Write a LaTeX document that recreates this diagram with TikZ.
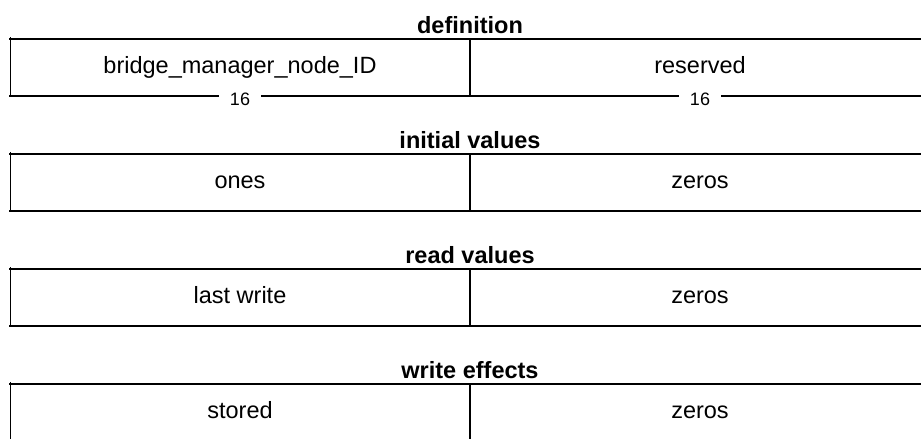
\documentclass[tikz,border=0pt]{standalone}
\usepackage{fontspec}
\setmainfont{Liberation Sans}
\tikzset{
  hline/.style={line width=2pt, line cap=rect},
  vline/.style={line width=1pt},
  divline/.style={line width=2pt},
  fieldtxt/.style={font=\fontsize{23.5}{28}\selectfont, inner sep=0pt, anchor=base},
  titletxt/.style={font=\fontsize{23.5}{28}\selectfont\bfseries, inner sep=0pt, anchor=base},
  widthtxt/.style={font=\fontsize{18}{20}\selectfont, fill=white, inner xsep=11pt, inner ysep=1pt},
}
\begin{document}
\begin{tikzpicture}[x=1pt,y=-1pt]
\useasboundingbox (0,0) rectangle (921,439);
\clip (0,0) rectangle (921,439);
% row geometry: top = 39 + 115 i, height 57
\foreach \i/\title/\left/\right in {0/definition/bridge\_manager\_node\_ID/reserved,
                                    1/initial values/ones/zeros,
                                    2/read values/last write/zeros,
                                    3/write effects/stored/zeros}{
  \pgfmathsetmacro{\t}{39+115*\i}
  \pgfmathsetmacro{\b}{\t+57}
  \coordinate (tl\i) at (10,\t);
  \coordinate (tr\i) at (930,\t);
  \coordinate (bl\i) at (10,\b);
  \coordinate (br\i) at (930,\b);
  \coordinate (dt\i) at (470,\t);
  \coordinate (db\i) at (470,\b);
  \coordinate (vt\i) at (10,\t-2);
  \draw[hline] (tl\i) -- (tr\i);
  \draw[hline] (bl\i) -- (br\i);
  \draw[vline] (vt\i) -- (bl\i);
  \draw[divline] (dt\i) -- (db\i);
  \draw[vline] (tr\i) -- (br\i);
  \node[titletxt] (title\i) at (470,\t-5.5) {\title};
  \node[fieldtxt] (fa\i) at (240,\t+34.5) {\left};
  \node[fieldtxt] (fb\i) at (700,\t+34.5) {\right};
}
\node[widthtxt] (wa) at (240,99) {16};
\node[widthtxt] (wb) at (700,99) {16};
\end{tikzpicture}
\end{document}
